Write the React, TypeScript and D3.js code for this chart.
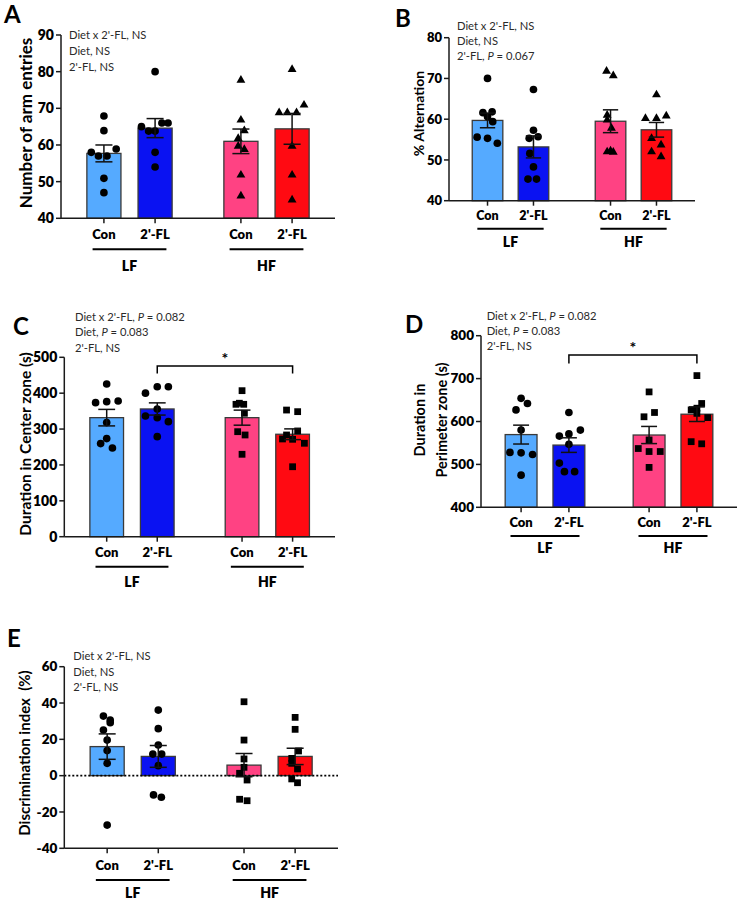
import React from "react";
import * as d3 from "d3";

// ---------- shared categories ----------
const groups = ["LF", "HF"];
const treatments = ["Con", "2'-FL"];
const barColors = ["#55aaff", "#0a12f2", "#ff4283", "#ff0a12"];

// ---------- Panel A: Number of arm entries ----------
const aMeans = [57.7, 64.6, 61.0, 64.4];
const aSem = [2.3, 2.6, 3.35, 4.2];
const aTicks = [40, 50, 60, 70, 80, 90];
const aValues = [
  [67.9, 63.9, 58, 57, 57, 58.9, 50.9, 47],
  [80, 65, 63.8, 63.8, 66, 66, 58, 54],
  [77.7, 66.8, 63.9, 61.8, 59.7, 58.8, 51.8, 46.1],
  [80.6, 68.8, 68.8, 68.8, 70.9, 59.7, 51.8, 45],
];
const aJitter = [
  [0, 0, -0.37, -0.16, 0.09, 0.36, 0, 0],
  [0, -0.4, -0.19, 0, 0.2, 0.38, 0, 0],
  [0, 0, 0.1, -0.08, -0.08, 0.1, 0, 0],
  [0, -0.38, -0.14, 0.13, 0.35, 0, 0, 0],
];

// ---------- Panel B: % Alternation ----------
const bMeans = [59.7, 53.2, 59.5, 57.4];
const bSem = [1.8, 2.7, 2.8, 1.8];
const bTicks = [40, 50, 60, 70, 80];
const bValues = [
  [70, 61.6, 61.8, 60.6, 59.4, 55.6, 55.3, 54.1],
  [67.3, 57.3, 55.3, 55.7, 51.6, 48.3, 45.3, 45.3],
  [71.8, 70.7, 61, 59.8, 57.8, 52, 51.9, 52.2],
  [66, 60.2, 60.2, 60.8, 55.3, 53.7, 52, 50.8],
];
const bJitter = [
  [0, -0.15, 0.15, 0, 0.17, -0.34, 0, 0.32],
  [0, 0, -0.14, 0.15, -0.12, 0, -0.18, 0.1],
  [-0.13, 0.09, -0.11, -0.11, 0.03, -0.11, 0.09, 0],
  [0, -0.36, 0, 0.32, -0.16, 0.15, -0.16, 0.15],
];

// ---------- Panel C: Duration in Center zone ----------
const cMeans = [331.8, 356, 331.8, 285.5];
const cSem = [23, 17, 21, 15];
const cTicks = [0, 100, 200, 300, 400, 500];
const cValues = [
  [425.7, 373.6, 376.4, 378.3, 318, 273.5, 259.6, 247.3],
  [418, 418, 400, 356, 336.5, 331.8, 320.6, 278.8],
  [407, 369, 369, 372, 344, 292.7, 283.5, 229.7],
  [353, 348.5, 283.5, 294.7, 272.4, 271.5, 260.4, 195],
];
const cJitter = [
  [0, -0.33, 0, 0.34, 0, 0, -0.18, 0.17],
  [0, 0.33, -0.35, 0, -0.35, 0, 0.33, 0],
  [0, -0.18, 0.05, -0.08, 0.07, -0.13, 0.09, 0],
  [-0.18, 0.15, -0.18, 0.15, -0.3, 0, 0.35, 0],
];

// ---------- Panel D: Duration in Perimeter zone ----------
const dMeans = [569.5, 545, 568.5, 617];
const dSem = [22, 17, 20, 17];
const dTicks = [400, 500, 600, 700, 800];
const dValues = [
  [654, 642, 627, 580, 528, 527, 523, 475],
  [621, 566, 571, 580, 547, 503, 483, 483],
  [669, 611, 621, 557, 537, 530, 530, 493],
  [707, 642, 627, 619, 609, 553, 548, 631],
];
const dJitter = [
  [0, 0.2, -0.16, 0, -0.35, 0, 0.36, 0],
  [0, -0.3, 0, 0.36, 0, -0.3, -0.14, 0.18],
  [0, -0.16, 0.17, 0, -0.34, 0, 0.35, 0],
  [0, 0.15, -0.18, 0, 0.34, -0.18, 0.15, 0],
];

// ---------- Panel E: Discrimination index ----------
const eMeans = [16, 10.6, 5.8, 10.6];
const eSem = [7, 6, 6.4, 4.5];
const eTicks = [-40, -20, 0, 20, 40, 60];
const eValues = [
  [32.8, 30.6, 29.2, 25.1, 19.6, 13.8, 6.8, -27.2],
  [36.1, 25.9, 16.9, 11.9, 11.9, 5.5, -10.6, -11.9],
  [40.7, 19.6, 9.2, 4.6, 1.3, -2.4, -13, -13.8],
  [32.1, 25.5, 13.6, 9.5, 6.8, 3.7, -1.8, -3.9],
];
const eJitter = [
  [-0.11, 0.09, 0.09, -0.11, 0, 0, 0, 0],
  [0, 0, 0, -0.16, 0.1, 0, -0.14, 0.09],
  [0, 0, 0, 0, -0.13, 0.09, -0.13, 0.09],
  [0, 0, 0.1, -0.1, -0.1, 0.07, -0.1, 0.07],
];

const FONT = "Lato, 'Open Sans', sans-serif";

type Annot = { parts: { t: string; i?: boolean }[] }[];

const annotNS: Annot = [
  { parts: [{ t: "Diet x 2'-FL, NS" }] },
  { parts: [{ t: "Diet, NS" }] },
  { parts: [{ t: "2'-FL, NS" }] },
];
const annotB: Annot = [
  { parts: [{ t: "Diet x 2'-FL, NS" }] },
  { parts: [{ t: "Diet, NS" }] },
  { parts: [{ t: "2'-FL, " }, { t: "P", i: true }, { t: " = 0.067" }] },
];
const annotCD: Annot = [
  { parts: [{ t: "Diet x 2'-FL, " }, { t: "P", i: true }, { t: " = 0.082" }] },
  { parts: [{ t: "Diet, " }, { t: "P", i: true }, { t: " = 0.083" }] },
  { parts: [{ t: "2'-FL, NS" }] },
];

type Cfg = {
  letter: string;
  letterPos: [number, number];
  x0: number;
  x1: number;
  yt: number;
  yb: number;
  domain: [number, number];
  base: number;
  ticks: number[];
  means: number[];
  sem: number[];
  values: number[][];
  jitter: number[][];
  markers: string[];
  annot: Annot;
  annotX: number;
  annotY: number[];
  title: string[];
  titleX: number[];
  titleY: number;
  titleSize: number;
  tickSize: number;
  catSize: number;
  catDy: number;
  lineDy: number;
  grpDy: number;
  bracket?: { from: number; to: number; top: number; drop: number };
  zeroLine?: boolean;
};

const cfgs: Cfg[] = [
  {
    letter: "A", letterPos: [4, 23], x0: 61, x1: 335, yt: 35, yb: 218.3,
    domain: [40, 90], base: 40, ticks: aTicks, means: aMeans, sem: aSem,
    values: aValues, jitter: aJitter,
    markers: ["circle", "circle", "triangle", "triangle"],
    annot: annotNS, annotX: 69, annotY: [39, 55, 70.5],
    title: ["Number of arm entries"], titleX: [26], titleY: 123, titleSize: 17,
    tickSize: 14, catSize: 13, catDy: 20.5, lineDy: 31, grpDy: 53,
  },
  {
    letter: "B", letterPos: [395, 26.7], x0: 449, x1: 695, yt: 37.7, yb: 200.7,
    domain: [40, 80], base: 40, ticks: bTicks, means: bMeans, sem: bSem,
    values: bValues, jitter: bJitter,
    markers: ["circle", "circle", "triangle", "triangle"],
    annot: annotB, annotX: 457, annotY: [30, 45, 59.5],
    title: ["% Alternation"], titleX: [419], titleY: 113.5, titleSize: 14,
    tickSize: 13, catSize: 12.5, catDy: 19.3, lineDy: 28, grpDy: 46,
  },
  {
    letter: "C", letterPos: [13, 335], x0: 64.3, x1: 335, yt: 357.3, yb: 536.7,
    domain: [0, 500], base: 0, ticks: cTicks, means: cMeans, sem: cSem,
    values: cValues, jitter: cJitter,
    markers: ["circle", "circle", "square", "square"],
    annot: annotCD, annotX: 75, annotY: [320.5, 336, 351.5],
    title: ["Duration in Center zone (s)"], titleX: [25.5], titleY: 444, titleSize: 15.5,
    tickSize: 14, catSize: 13, catDy: 20.3, lineDy: 30, grpDy: 50.3,
    bracket: { from: 1, to: 3, top: 476, drop: 455 },
  },
  {
    letter: "D", letterPos: [405, 333], x0: 481, x1: 737, yt: 335.7, yb: 507.3,
    domain: [400, 800], base: 400, ticks: dTicks, means: dMeans, sem: dSem,
    values: dValues, jitter: dJitter,
    markers: ["circle", "circle", "square", "square"],
    annot: annotCD, annotX: 486.7, annotY: [319.5, 334.5, 350],
    title: ["Duration in", "Perimeter zone (s)"], titleX: [420, 441.7], titleY: 420, titleSize: 14.5,
    tickSize: 13.5, catSize: 13, catDy: 19.2, lineDy: 28.7, grpDy: 45.7,
    bracket: { from: 1, to: 3, top: 755, drop: 735 },
  },
  {
    letter: "E", letterPos: [7, 646.7], x0: 64.3, x1: 338, yt: 666.7, yb: 848.3,
    domain: [-40, 60], base: 0, ticks: eTicks, means: eMeans, sem: eSem,
    values: eValues, jitter: eJitter,
    markers: ["circle", "circle", "square", "square"],
    annot: annotNS, annotX: 73.3, annotY: [660, 675.5, 691],
    title: ["Discrimination index  (%)"], titleX: [25], titleY: 753, titleSize: 15,
    tickSize: 13.5, catSize: 13, catDy: 21.7, lineDy: 31.7, grpDy: 49.5,
    zeroLine: true,
  },
];

const symbolFor = (m: string) => {
  if (m === "triangle") return d3.symbol(d3.symbolTriangle, 34)();
  if (m === "square") return d3.symbol(d3.symbolSquare, 46)();
  return d3.symbol(d3.symbolCircle, 46)();
};

function Panel({ cfg }: { cfg: Cfg }) {
  const y = d3.scaleLinear().domain(cfg.domain).range([cfg.yb, cfg.yt]);
  const outer = d3.scaleBand<string>().domain(groups).range([cfg.x0, cfg.x1]).paddingInner(0.3).paddingOuter(0.15);
  const inner = d3.scaleBand<string>().domain(treatments).range([0, outer.bandwidth()]).paddingInner(0.334).paddingOuter(0.104);
  const bw = inner.bandwidth();
  const cats = groups.flatMap((g) => treatments.map((t) => ({ g, t })));
  const cx = (i: number) => (outer(cats[i].g) as number) + (inner(cats[i].t) as number) + bw / 2;
  const axisY = y(cfg.domain[0]);
  const ink = "#1a1a1a";

  return (
    <g fontFamily={FONT}>
      <text x={cfg.letterPos[0]} y={cfg.letterPos[1]} fontSize={24} fontWeight={700} fill="#000">{cfg.letter}</text>
      {cfg.annot.map((line, li) => (
        <text key={li} x={cfg.annotX} y={cfg.annotY[li]} fontSize={11.2} fill="#2a2a2a">
          {line.parts.map((p, pi) => (
            <tspan key={pi} fontStyle={p.i ? "italic" : "normal"}>{p.t}</tspan>
          ))}
        </text>
      ))}
      {cfg.title.map((t, ti) => (
        <text key={ti} transform={`translate(${cfg.titleX[ti]},${cfg.titleY}) rotate(-90)`} textAnchor="middle" dy="0.35em"
          fontSize={cfg.titleSize} fontWeight={700} fill="#000" style={{ whiteSpace: "pre" }}>{t}</text>
      ))}
      {/* bars */}
      {cfg.means.map((m, i) => (
        <rect key={i} x={cx(i) - bw / 2} y={Math.min(y(m), y(cfg.base))} width={bw}
          height={Math.abs(y(cfg.base) - y(m))} fill={barColors[i]} stroke="#3a3a3a" strokeWidth={1.3} />
      ))}
      {cfg.zeroLine && (
        <line x1={cfg.x0} x2={cfg.x1} y1={y(0)} y2={y(0)} stroke="#000" strokeWidth={1.6} strokeDasharray="2,2" />
      )}
      {/* points */}
      {cfg.values.map((vals, i) =>
        vals.map((v, j) => (
          <path key={`${i}-${j}`} d={symbolFor(cfg.markers[i]) as string}
            transform={`translate(${cx(i) + cfg.jitter[i][j] * bw},${y(v)})`} fill="#000" />
        ))
      )}
      {/* error bars */}
      {cfg.means.map((m, i) => {
        const x = cx(i);
        const hi = y(m + cfg.sem[i]);
        const lo = y(m - cfg.sem[i]);
        return (
          <g key={i} stroke="#111" strokeWidth={1.5}>
            <line x1={x} x2={x} y1={hi} y2={lo} />
            <line x1={x - bw / 4} x2={x + bw / 4} y1={hi} y2={hi} />
            <line x1={x - bw / 4} x2={x + bw / 4} y1={lo} y2={lo} />
          </g>
        );
      })}
      {/* axes */}
      <line x1={cfg.x0} x2={cfg.x0} y1={y(cfg.domain[1])} y2={axisY} stroke={ink} strokeWidth={1.5} />
      <line x1={cfg.x0} x2={cfg.x1} y1={axisY} y2={axisY} stroke={ink} strokeWidth={1.5} />
      {cfg.ticks.map((t) => (
        <g key={t}>
          <line x1={cfg.x0 - 5} x2={cfg.x0} y1={y(t)} y2={y(t)} stroke={ink} strokeWidth={1.5} />
          <text x={cfg.x0 - 7} y={y(t)} dy="0.35em" textAnchor="end" fontSize={cfg.tickSize} fontWeight={800} fill="#000">{t}</text>
        </g>
      ))}
      {cats.map((c, i) => (
        <g key={i}>
          <line x1={cx(i)} x2={cx(i)} y1={axisY} y2={axisY + 5} stroke={ink} strokeWidth={1.5} />
          <text x={cx(i)} y={axisY + cfg.catDy} textAnchor="middle" fontSize={cfg.catSize} fontWeight={800} fill="#000">{c.t}</text>
        </g>
      ))}
      {groups.map((g) => {
        const gc = (outer(g) as number) + outer.bandwidth() / 2;
        const half = outer.bandwidth() * 0.385;
        return (
          <g key={g}>
            <line x1={gc - half} x2={gc + half} y1={axisY + cfg.lineDy} y2={axisY + cfg.lineDy} stroke="#000" strokeWidth={2} />
            <text x={gc} y={axisY + cfg.grpDy} textAnchor="middle" fontSize={14} fontWeight={800} fill="#000">{g}</text>
          </g>
        );
      })}
      {cfg.bracket && (() => {
        const b = cfg.bracket;
        const xa = cx(b.from);
        const xb = cx(b.to);
        const yt = y(b.top);
        const yd = y(b.drop);
        return (
          <g>
            <path d={`M${xa},${yd}V${yt}H${xb}V${yd}`} fill="none" stroke="#000" strokeWidth={1.5} />
            <text x={(xa + xb) / 2} y={yt - 2} textAnchor="middle" fontSize={16} fontWeight={700} fill="#000">*</text>
          </g>
        );
      })()}
    </g>
  );
}

export default function App() {
  return (
    <svg width={740} height={901} style={{ position: "absolute", left: 0, top: 0, background: "#fff" }}>
      <rect width={740} height={901} fill="#fff" />
      {cfgs.map((c) => (
        <Panel key={c.letter} cfg={c} />
      ))}
    </svg>
  );
}
